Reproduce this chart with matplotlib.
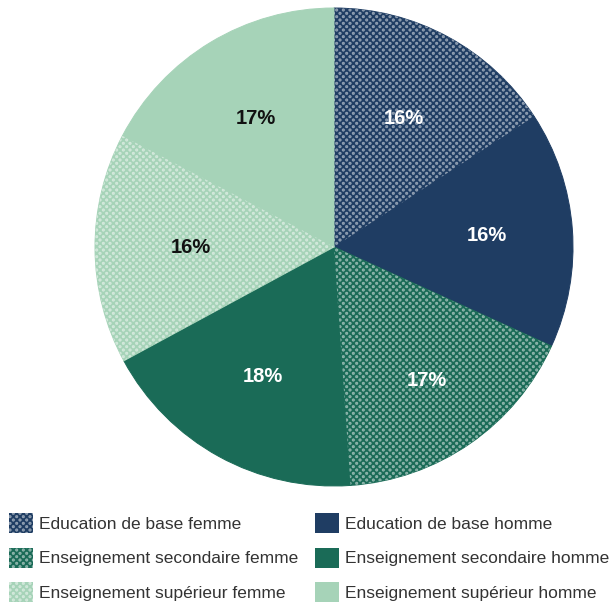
import matplotlib
matplotlib.use("Agg")
import matplotlib.pyplot as plt
import matplotlib.hatch as mhatch
from matplotlib.patches import Patch
from matplotlib.path import Path
import numpy as np

plt.rcParams['font.family'] = ['Liberation Sans', 'DejaVu Sans']
plt.rcParams['hatch.linewidth'] = 0.3


class DiagDots(mhatch.HatchPatternBase):
    """Staggered small filled dots (diagonal grid)."""
    def __init__(self, hatch, density):
        n = hatch.count('.')
        self.pts = []
        if n:
            nx, ny = 15, 30
            for j in range(ny + 1):
                y = j / ny
                if j % 2 == 0:
                    xs = [i / nx for i in range(nx + 1)]
                else:
                    xs = [(i + 0.5) / nx for i in range(nx)]
                for x in xs:
                    self.pts.append((x, y))
        circ = Path.unit_circle()
        self.cv = circ.vertices
        self.cc = circ.codes
        self.num_vertices = len(self.pts) * len(self.cv)

    def set_vertices_and_codes(self, vertices, codes):
        k = len(self.cv)
        r = 0.0135
        for idx, (x, y) in enumerate(self.pts):
            vertices[idx * k:(idx + 1) * k] = self.cv * r + np.array([x, y])
            codes[idx * k:(idx + 1) * k] = self.cc


mhatch._hatch_types = [t for t in mhatch._hatch_types
                       if t is not mhatch.SmallFilledCircles] + [DiagDots]

labels = ["Education de base femme", "Education de base homme",
          "Enseignement secondaire femme", "Enseignement secondaire homme",
          "Enseignement supérieur femme", "Enseignement supérieur homme"]
values = [15.8, 16.0, 17.1, 18.2, 15.6, 17.3]
colors = ["#1f3d63", "#1f3d63", "#1a6b57", "#1a6b57", "#a6d3b8", "#a6d3b8"]
hatched = [True, False, True, False, True, False]
text_colors = ["white", "white", "white", "white", "#111111", "#111111"]
label_dist = [0.61, 0.64, 0.68, 0.62, 0.60, 0.63]
DOT = (1, 1, 1, 0.45)

W, H = 614, 602
fig = plt.figure(figsize=(W / 100, H / 100), dpi=100)
cx, cy, r = 334, 247, 239
ax = fig.add_axes([(cx - r) / W, 1 - (cy + r) / H, 2 * r / W, 2 * r / H])

# base coloured pie
wedges, texts, autotexts = ax.pie(values, colors=colors, startangle=90, counterclock=False,
                                  autopct='%.0f%%', pctdistance=0.6,
                                  wedgeprops=dict(linewidth=0.7))
for w, c in zip(wedges, colors):
    w.set_edgecolor(c)

# dotted texture overlay
over, _ = ax.pie(values, colors=['none'] * len(values), startangle=90, counterclock=False,
                 wedgeprops=dict(linewidth=0, antialiased=False))
for w, h in zip(over, hatched):
    if h:
        w.set_edgecolor('none')
        w.set_hatch('.')
        w._hatch_color = DOT
    else:
        w.set_visible(False)

for w, t, c, d in zip(wedges, autotexts, text_colors, label_dist):
    ang = np.deg2rad((w.theta1 + w.theta2) / 2)
    t.set_position((d * np.cos(ang), d * np.sin(ang)))
    t.set_color(c)
    t.set_fontsize(14.5)
    t.set_fontweight('bold')
    t.set_zorder(5)
ax.set_xlim(-1, 1)
ax.set_ylim(-1, 1)

handles = []
for c, h in zip(colors, hatched):
    p = Patch(facecolor=c, edgecolor='none', linewidth=0, antialiased=False,
              hatch='.' if h else None)
    if h:
        p._hatch_color = DOT
    handles.append(p)

order = [0, 2, 4, 1, 3, 5]
leg = fig.legend([handles[i] for i in order], [labels[i] for i in order],
                 loc='lower left', bbox_to_anchor=(9 / W, 0.0), ncol=2,
                 frameon=False, fontsize=12.5, handlelength=1.382, handleheight=1.382,
                 labelspacing=0.843, columnspacing=0.98, handletextpad=0.35,
                 borderaxespad=0.0, borderpad=0.0)
for t in leg.get_texts():
    t.set_color('#333333')

fig.savefig("out.png", dpi=100)
